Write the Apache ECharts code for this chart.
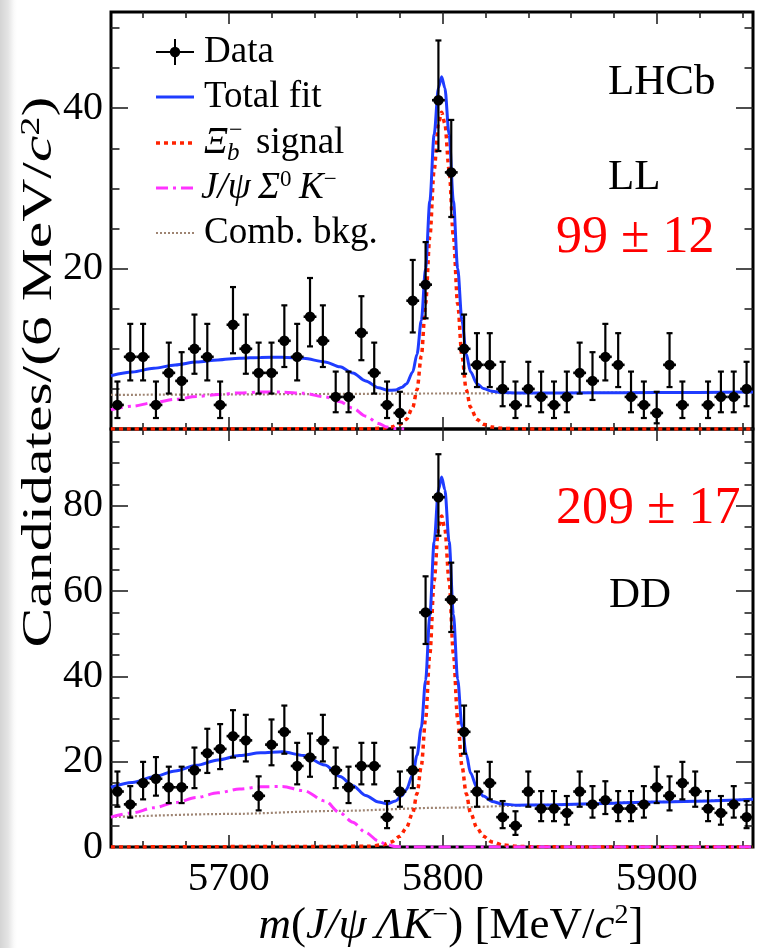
<!DOCTYPE html>
<html>
<head>
<meta charset="utf-8">
<script src="https://cdn.jsdelivr.net/npm/echarts@6/dist/echarts.min.js"></script>
<style>
html,body{margin:0;padding:0;}
body{background:linear-gradient(to right,#d4d4d4 0px,#e4e4e4 8px,#fafafa 14px,#ffffff 17px);}
#c{width:757px;height:948px;}
</style>
</head>
<body>
<div id="c"></div>
<script>
// ---------------- data ----------------
const xMin = 5645, xMax = 5945;
const xMajor = [5700, 5800, 5900];
const xMinor = [5660, 5680, 5720, 5740, 5760, 5780, 5820, 5840, 5860, 5880, 5920, 5940];
const yMaxLL = 52, yMaxDD = 98;
const yMajorLL = [0, 20, 40];
const yMinorLL = [5, 10, 15, 25, 30, 35, 45, 50];
const yLabelsLL = [20, 40];
const yMajorDD = [0, 20, 40, 60, 80];
const yMinorDD = [5, 10, 15, 25, 30, 35, 45, 50, 55, 65, 70, 75, 85, 90, 95];
const yLabelsDD = [0, 20, 40, 60, 80];

const binCenters = [5648, 5654, 5660, 5666, 5672, 5678, 5684, 5690, 5696, 5702,
  5708, 5714, 5720, 5726, 5732, 5738, 5744, 5750, 5756, 5762,
  5768, 5774, 5780, 5786, 5792, 5798, 5804, 5810, 5816, 5822,
  5828, 5834, 5840, 5846, 5852, 5858, 5864, 5870, 5876, 5882,
  5888, 5894, 5900, 5906, 5912, 5918, 5924, 5930, 5936, 5942];
const countsLL = [3, 9, 9, 3, 7, 6, 10, 9, 3, 13,
  10, 7, 7, 11, 9, 14, 11, 4, 4, 12,
  7, 3, 2, 16, 18, 41, 32, 10, 8, 8,
  5, 3, 5, 4, 3, 4, 7, 6, 9, 8,
  4, 3, 2, 8, 3, null, 3, 4, 4, 5];
const countsDD = [13, 10, 15, 16, 14, 14, 18, 22, 23, 26,
  25, 12, 24, 27, 19, 21, 25, 18, 14, 19,
  19, 7, 13, 18, 55, 82, 58, 27, 13, 15,
  7, 5, 13, 9, 9, 8, 13, 10, 11, 9,
  9, 10, 14, 12, 15, 13, 9, 8, 10, 7];
// Poisson (Garwood 68%) interval edges per count: [low, high]
const poissonBand = {
  2: [0.71, 4.64], 3: [1.37, 5.92], 4: [2.09, 7.16], 5: [2.84, 8.38], 6: [3.62, 9.58],
  7: [4.42, 10.77], 8: [5.23, 11.95], 9: [6.06, 13.11], 10: [6.89, 14.27], 11: [7.73, 15.42],
  12: [8.58, 16.56], 13: [9.44, 17.70], 14: [10.30, 18.83], 15: [11.17, 19.96], 16: [12.04, 21.08],
  18: [13.80, 23.31], 19: [14.69, 24.42], 21: [16.47, 26.62], 22: [17.36, 27.72], 23: [18.26, 28.81],
  24: [19.16, 29.90], 25: [20.06, 30.99], 26: [20.97, 32.08], 27: [21.87, 33.16], 32: [26.44, 38.54],
  41: [34.66, 48.45], 55: [47.60, 63.46], 58: [50.41, 66.66], 82: [72.97, 92.09]
};
const halfBin = 3;

// Fit components
const sigMass = [5645, 5765, 5772, 5776, 5780, 5783, 5786, 5788, 5790, 5792, 5794, 5796, 5798, 5799.5,
  5801, 5803, 5805, 5807, 5809, 5811, 5813, 5816, 5819, 5823, 5828, 5835, 5845, 5945];
const sigLL = [0, 0.02, 0.1, 0.25, 0.6, 1.2, 2.7, 4.9, 9.1, 15.6, 24.0, 32.3, 38.1, 39.5,
  38.1, 32.3, 24.0, 15.6, 9.1, 4.9, 2.7, 1.2, 0.6, 0.25, 0.08, 0.02, 0, 0];
const sigDD = [0, 0.15, 0.5, 1.2, 2.5, 4.5, 8, 12.5, 19, 30, 45.3, 62.4, 74.6, 77.6,
  74.6, 62.4, 45.3, 30, 19, 12.5, 8, 4.5, 2.5, 1.2, 0.5, 0.15, 0.03, 0];

const combMass = [5645, 5700, 5750, 5800, 5850, 5900, 5945];
const combLL = [4.25, 4.31, 4.37, 4.43, 4.49, 4.55, 4.6];
const combDD = [7.0, 7.75, 8.45, 9.2, 9.9, 10.6, 11.2];

const sz0MassLL = [5645, 5655, 5665, 5675, 5685, 5695, 5705, 5715, 5725, 5735, 5745, 5752, 5758, 5764, 5770, 5774, 5778, 5782];
const sz0LL = [2.4, 2.85, 3.3, 3.7, 4.05, 4.3, 4.5, 4.6, 4.6, 4.45, 4.0, 3.4, 2.6, 1.6, 0.7, 0.25, 0.05, 0];
const sz0MassDD = [5645, 5655, 5665, 5675, 5685, 5695, 5705, 5715, 5725, 5735, 5745, 5752, 5758, 5764, 5770, 5774, 5778, 5782, 5945];
const sz0DD = [7.0, 8.0, 9.2, 10.4, 11.6, 12.7, 13.6, 14.1, 14.2, 13.2, 10.8, 8.0, 5.8, 3.4, 1.4, 0.5, 0.1, 0, 0];

const totMass = [5645, 5655, 5665, 5675, 5685, 5695, 5705, 5715, 5725, 5735, 5745, 5752, 5758, 5764, 5770, 5774,
  5778, 5781, 5783, 5786, 5788, 5790, 5792, 5794, 5796, 5798, 5799.5, 5801, 5803, 5805, 5807, 5809, 5811,
  5813, 5816, 5819, 5823, 5828, 5835, 5845, 5870, 5900, 5945];
const totLL = [6.65, 7.11, 7.57, 7.99, 8.35, 8.61, 8.82, 8.93, 8.94, 8.81, 8.37, 7.77, 6.98, 5.99, 5.15, 4.83,
  4.86, 5.21, 5.61, 7.12, 9.32, 13.52, 20.02, 28.43, 36.73, 42.53, 43.93, 42.53, 36.73, 28.44, 20.04, 13.54, 9.34,
  7.14, 5.65, 5.05, 4.71, 4.54, 4.49, 4.48, 4.51, 4.55, 4.6];
const totDD = [14.0, 15.14, 16.48, 17.82, 19.16, 20.4, 21.44, 22.08, 22.32, 21.46, 19.2, 16.5, 14.38, 12.07, 10.55, 10.11,
  10.81, 12.1, 13.43, 16.97, 21.5, 28.03, 39.06, 54.39, 71.51, 83.74, 86.76, 83.78, 71.61, 54.54, 39.27, 28.3, 21.82,
  17.35, 13.89, 11.94, 10.69, 10.06, 9.81, 9.83, 10.15, 10.57, 11.2];

// ---------------- style ----------------
const FF = "'Liberation Serif', 'Times New Roman', serif";
const C_BLUE = '#1f3cff', C_RED = '#ff2200', C_MAG = '#ff33ff', C_BROWN = '#9e8472';
const ST = {
  total: {color: C_BLUE, width: 3, type: 'solid'},
  sig: {color: C_RED, width: 3.5, type: [4, 4]},
  sz0: {color: C_MAG, width: 3, type: [12, 5, 3, 5]},
  comb: {color: C_BROWN, width: 2.2, type: [2, 2]}
};

const grids = [
  {left: 111, top: 12, width: 642, height: 417},
  {left: 111, top: 429, width: 642, height: 418}
].map(g => Object.assign({show: true, borderColor: '#000', borderWidth: 3, backgroundColor: 'transparent', outerBoundsMode: 'none'}, g));

const tickLine = {color: '#222', width: 1.6};
const plainNum = v => String(v);
function xAxes(gi, labels) {
  const base = {type: 'value', gridIndex: gi, min: xMin, max: xMax, splitLine: {show: false},
    axisLine: {show: false, onZero: false}};
  const major = {show: true, inside: true, length: 12, customValues: xMajor, lineStyle: tickLine};
  const minor = {show: true, inside: true, length: 6, customValues: xMinor, lineStyle: tickLine};
  const lab = labels ? {show: true, customValues: xMajor, formatter: plainNum, fontFamily: FF, fontSize: 41, color: '#000', margin: 12}
                     : {show: false};
  return [
    Object.assign({}, base, {position: 'bottom', axisTick: major, axisLabel: lab}),
    Object.assign({}, base, {position: 'bottom', axisTick: minor, axisLabel: {show: false}}),
    Object.assign({}, base, {position: 'top', axisTick: major, axisLabel: {show: false}}),
    Object.assign({}, base, {position: 'top', axisTick: minor, axisLabel: {show: false}})
  ];
}
function yAxes(gi, max, majorV, minorV, labelV) {
  const base = {type: 'value', gridIndex: gi, min: 0, max: max, splitLine: {show: false},
    axisLine: {show: false, onZero: false}};
  const major = {show: true, inside: true, length: 17, customValues: majorV, lineStyle: tickLine};
  const minor = {show: true, inside: true, length: 8.5, customValues: minorV, lineStyle: tickLine};
  return [
    Object.assign({}, base, {position: 'left', axisTick: major,
      axisLabel: {show: true, customValues: labelV, formatter: plainNum, fontFamily: FF, fontSize: 40, color: '#000', margin: 8}}),
    Object.assign({}, base, {position: 'left', axisTick: minor, axisLabel: {show: false}}),
    Object.assign({}, base, {position: 'right', axisTick: major, axisLabel: {show: false}}),
    Object.assign({}, base, {position: 'right', axisTick: minor, axisLabel: {show: false}})
  ];
}

function curve(xs, ys, gi, st, z) {
  return {type: 'line', xAxisIndex: gi * 4, yAxisIndex: gi * 4, data: xs.map((x, i) => [x, ys[i]]),
    symbol: 'none', showSymbol: false, smooth: 0.3, smoothMonotone: 'x', silent: true, z: z,
    lineStyle: {color: st.color, width: st.width, type: st.type}};
}
function dataSeries(counts, gi) {
  const rows = [];
  binCenters.forEach((m, i) => {
    const n = counts[i];
    if (n === null || n === undefined) return;
    const b = poissonBand[n];
    rows.push([m, n, b[0], b[1]]);
  });
  return {
    type: 'custom', xAxisIndex: gi * 4, yAxisIndex: gi * 4, data: rows, z: 10, silent: true,
    renderItem: function (params, api) {
      const m = api.value(0), n = api.value(1), lo = api.value(2), hi = api.value(3);
      const p = api.coord([m, n]);
      const pl = api.coord([m - halfBin, n]);
      const pr = api.coord([m + halfBin, n]);
      const plo = api.coord([m, lo]);
      const phi = api.coord([m, hi]);
      const s = {stroke: '#000', lineWidth: 2.2};
      return {type: 'group', children: [
        {type: 'line', shape: {x1: p[0], y1: plo[1], x2: p[0], y2: phi[1]}, style: s},
        {type: 'line', shape: {x1: p[0] - 3, y1: plo[1], x2: p[0] + 3, y2: plo[1]}, style: s},
        {type: 'line', shape: {x1: p[0] - 3, y1: phi[1], x2: p[0] + 3, y2: phi[1]}, style: s},
        {type: 'line', shape: {x1: pl[0], y1: p[1], x2: pr[0], y2: p[1]}, style: {stroke: '#000', lineWidth: 2.6}},
        {type: 'circle', shape: {cx: p[0], cy: p[1], r: 5.2}, style: {fill: '#000'}}
      ]};
    }
  };
}

// ---------------- text / legend graphics ----------------
const rowY = [52, 97, 143, 188, 233];
const LX1 = 156, LX2 = 194, TX = 204, LFS = 37;
const richBase = {
  n: {fontFamily: FF, fontSize: LFS, lineHeight: 40},
  it: {fontFamily: FF, fontSize: LFS, fontStyle: 'italic', lineHeight: 40},
  sup: {fontFamily: FF, fontSize: 23, lineHeight: 16, verticalAlign: 'top'}
};
function txt(x, y, text, opts) {
  return {type: 'text', x: x, y: y, silent: true, z: 100,
    style: Object.assign({text: text, fontFamily: FF, fontSize: LFS, fill: '#000', align: 'left', verticalAlign: 'middle'}, opts || {})};
}
function seg(y, st) {
  return {type: 'line', silent: true, z: 100, shape: {x1: LX1, y1: y, x2: LX2, y2: y},
    style: {stroke: st.color, lineWidth: st.width, lineDash: Array.isArray(st.type) ? st.type : null}};
}
const titleRich = {
  n: {fontFamily: FF, fontSize: 45, lineHeight: 48},
  it: {fontFamily: FF, fontSize: 45, fontStyle: 'italic', lineHeight: 48},
  sup: {fontFamily: FF, fontSize: 28, lineHeight: 20, verticalAlign: 'top'}
};
const graphics = [
  // Data legend marker
  {type: 'line', silent: true, z: 100, shape: {x1: LX1, y1: rowY[0], x2: LX2, y2: rowY[0]}, style: {stroke: '#000', lineWidth: 2}},
  {type: 'line', silent: true, z: 100, shape: {x1: 175, y1: rowY[0] - 13, x2: 175, y2: rowY[0] + 13}, style: {stroke: '#000', lineWidth: 2}},
  {type: 'circle', silent: true, z: 100, shape: {cx: 175, cy: rowY[0], r: 5.2}, style: {fill: '#000'}},
  txt(TX, rowY[0], 'Data'),
  seg(rowY[1], ST.total), txt(TX, rowY[1], 'Total fit'),
  seg(rowY[2], ST.sig),
  txt(TX, rowY[2], 'Ξ', {fontStyle: 'italic'}),
  txt(229, rowY[2] - 12, '−', {fontSize: 24}),
  txt(227, rowY[2] + 10, 'b', {fontSize: 25, fontStyle: 'italic'}),
  txt(256, rowY[2], 'signal'),
  seg(rowY[3], ST.sz0),
  txt(201, rowY[3], '{it|J/ψ\u2009Σ}{sup|0}{it|\u2009K}{sup|−}', {rich: richBase}),
  seg(rowY[4], ST.comb), txt(TX, rowY[4], 'Comb. bkg.'),
  // panel annotations
  txt(608, 83, 'LHCb', {fontSize: 43}),
  txt(608, 178, 'LL', {fontSize: 43}),
  txt(556, 238, '99 ± 12', {fontSize: 52, fill: '#ff0000'}),
  txt(556, 509, '209 ± 17', {fontSize: 52, fill: '#ff0000'}),
  txt(609, 596, 'DD', {fontSize: 43}),
  // axis titles
  txt(451, 926, '{it|m}{n|(}{it|J/ψ\u2009ΛK}{sup|−}{n|) [MeV/}{it|c}{sup|2}{n|]}', {align: 'center', rich: titleRich}),
  Object.assign(txt(40, 372, '{n|Candidates/(6 MeV/}{it|c}{sup|2}{n|)}', {
    align: 'center', rich: {
      n: {fontFamily: FF, fontSize: 42, lineHeight: 44},
      it: {fontFamily: FF, fontSize: 42, fontStyle: 'italic', lineHeight: 44},
      sup: {fontFamily: FF, fontSize: 27, lineHeight: 18, verticalAlign: 'top'}
    }}), {rotation: Math.PI / 2, scaleX: 1.42})
];

const chart = echarts.init(document.getElementById('c'), null, {renderer: 'canvas'});
chart.setOption({
  animation: false,
  backgroundColor: 'transparent',
  grid: grids,
  xAxis: xAxes(0, false).concat(xAxes(1, true)),
  yAxis: yAxes(0, yMaxLL, yMajorLL, yMinorLL, yLabelsLL).concat(yAxes(1, yMaxDD, yMajorDD, yMinorDD, yLabelsDD)),
  series: [
    curve(combMass, combLL, 0, ST.comb, 2),
    curve(sigMass, sigLL, 0, ST.sig, 3),
    curve(sz0MassLL, sz0LL, 0, ST.sz0, 4),
    curve(totMass, totLL, 0, ST.total, 5),
    dataSeries(countsLL, 0),
    curve(combMass, combDD, 1, ST.comb, 2),
    curve(sigMass, sigDD, 1, ST.sig, 3),
    curve(sz0MassDD, sz0DD, 1, ST.sz0, 4),
    curve(totMass, totDD, 1, ST.total, 5),
    dataSeries(countsDD, 1)
  ],
  graphic: graphics
});
</script>
</body>
</html>
